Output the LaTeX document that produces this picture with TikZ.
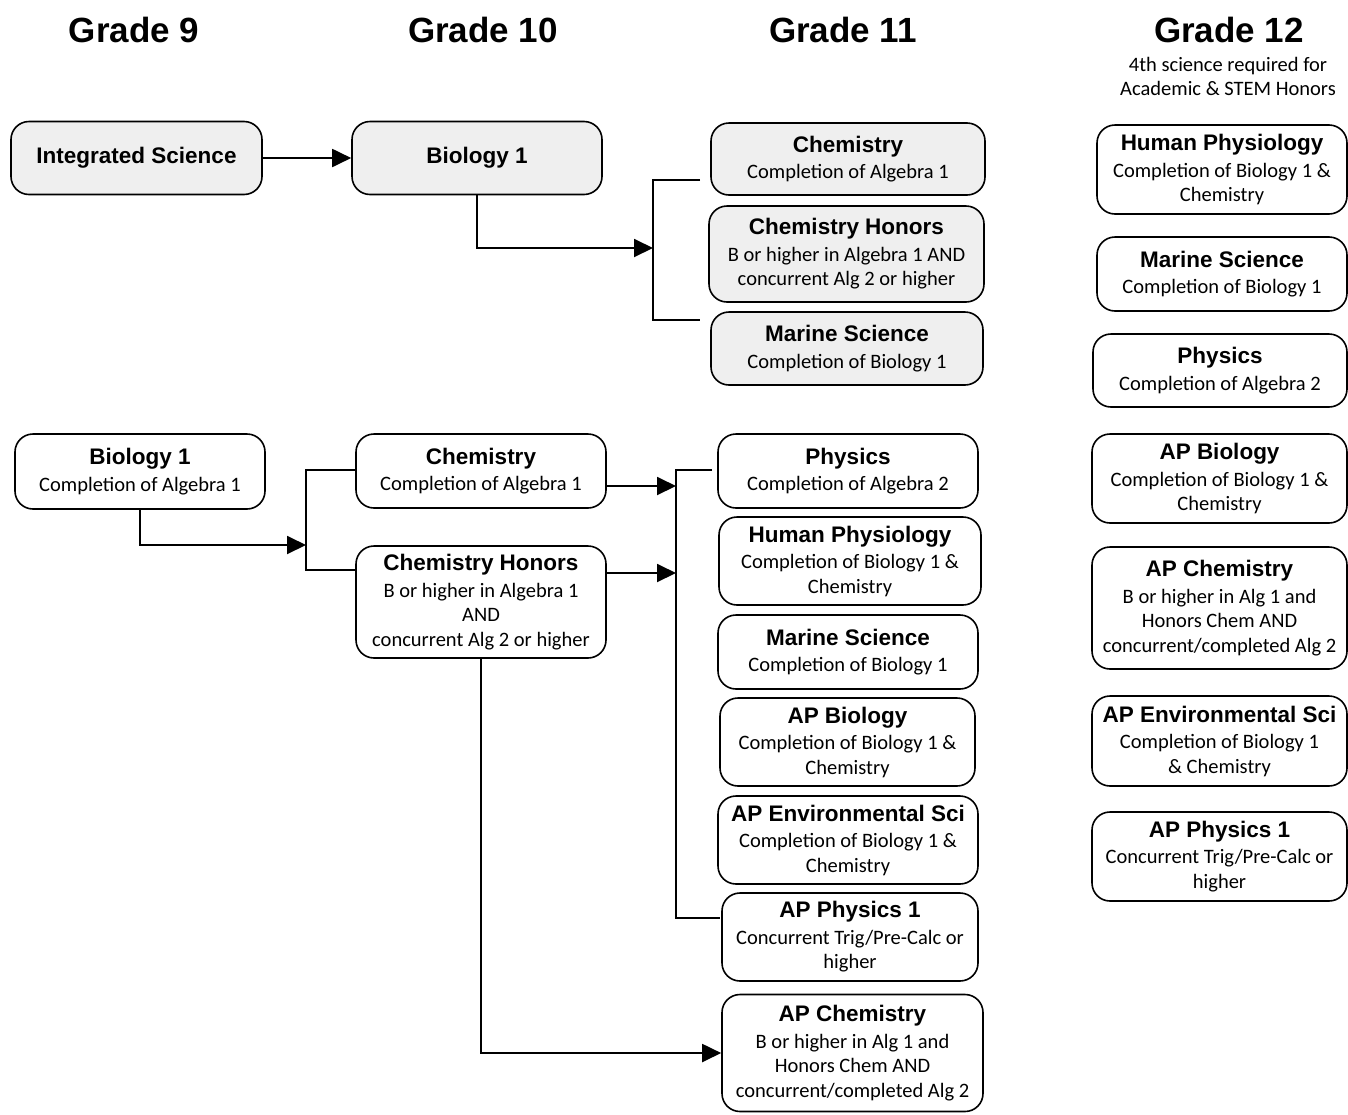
\documentclass[tikz,border=0pt]{standalone}
\usepackage{fontspec}
\setmainfont{Carlito}
\newfontfamily\arialfont{Liberation Sans}
\usetikzlibrary{arrows.meta}
\definecolor{corefill}{HTML}{EFEFEF}
\newcommand{\ctitle}[1]{{\arialfont\bfseries\fontsize{22.5}{27}\selectfont #1}}

\begin{document}
\begin{tikzpicture}[x=1pt,y=-1pt]
        \tikzset{
            crs/.style={draw, rounded corners=18pt, line width=1.6pt, align=center,
            inner sep=0pt, font=\fontsize{20.5}{24.5}\selectfont},
            core/.style={crs, fill=corefill},
            wh/.style 2 args={minimum width=#1pt, minimum height=#2pt},
            grade/.style={font=\arialfont\bfseries\fontsize{35}{40}\selectfont},
            ln/.style={line width=1.9pt},
            arr/.style={ln, -{Triangle[length=19pt,width=18pt]}}
            }
            \useasboundingbox (0,0) rectangle (1348,1114);

            % grade headings
            \node[grade] (g9) at (134,30) {Grade 9};
            \node[grade] (g10) at (483,30) {Grade 10};
            \node[grade] (g11) at (843,30) {Grade 11};
            \node[grade] (g12) at (1229,30) {Grade 12};
            \node[align=center, font=\fontsize{20.5}{24}\selectfont] (note) at (1228,76) {4th science required for\\Academic \& STEM Honors};

            % top track
            \node[core, wh={251}{73}] (tis) at (136.5,158) {\ctitle{Integrated Science}};
            \node[core, wh={250}{73}] (tbio) at (477,158) {\ctitle{Biology 1}};
            \node[core, wh={274}{72}] (tchem) at (848,159) {\ctitle{Chemistry}\\[2pt]Completion of Algebra 1};
            \node[core, wh={275}{96}] (tchemh) at (846.5,254) {\ctitle{Chemistry Honors}\\[2pt]B or higher in Algebra 1 AND\\concurrent Alg 2 or higher};
            \node[core, wh={272}{73}] (tmar) at (847,348.5) {\ctitle{Marine Science}\\[2pt]Completion of Biology 1};

            \coordinate (tsplit) at (653,248);
            \draw[arr] (tis) -- (tbio);
            \draw[arr] (tbio.south) |- (tsplit);
            \draw[ln, shorten <=10pt, shorten >=10pt] ([yshift=-21pt]tchem.west) -| (tsplit) |- ([yshift=28.5pt]tmar.west);

            % bottom track
            \node[crs, wh={250}{75}] (bbio) at (140,471.5) {\ctitle{Biology 1}\\[2pt]Completion of Algebra 1};
            \node[crs, wh={250}{74}] (bchem) at (481,471) {\ctitle{Chemistry}\\[2pt]Completion of Algebra 1};
            \node[crs, wh={250}{112}] (bchemh) at (481,602) {\ctitle{Chemistry Honors}\\[2pt]B or higher in Algebra 1\\AND\\concurrent Alg 2 or higher};
            \node[crs, wh={260}{74}] (bphys) at (848,471) {\ctitle{Physics}\\[2pt]Completion of Algebra 2};
            \node[crs, wh={262}{88}] (bhum) at (850,561) {\ctitle{Human Physiology}\\[2pt]Completion of Biology 1 \&\\Chemistry};
            \node[crs, wh={260}{74}] (bmar) at (848,652) {\ctitle{Marine Science}\\[2pt]Completion of Biology 1};
            \node[crs, wh={255}{88}] (bapbio) at (847.5,742) {\ctitle{AP Biology}\\[2pt]Completion of Biology 1 \&\\Chemistry};
            \node[crs, wh={260}{88}] (bapenv) at (848,840) {\ctitle{AP Environmental Sci}\\[2pt]Completion of Biology 1 \&\\Chemistry};
            \node[crs, wh={256}{88}] (bapphys) at (850,937) {\ctitle{AP Physics 1}\\[2pt]Concurrent Trig/Pre-Calc or\\higher};
            \node[crs, wh={261}{117}] (bapchem) at (852.5,1053) {\ctitle{AP Chemistry}\\[2pt]B or higher in Alg 1 and\\Honors Chem AND\\concurrent/completed Alg 2};

            \coordinate (bsplit) at (306,545);
            \coordinate (csplit1) at (676,486);
            \coordinate (csplit2) at (676,573);
            \draw[arr] (bbio.south) |- (bsplit);
            \draw[ln] ([yshift=1pt]bchem.west) -| (bsplit) |- ([yshift=32pt]bchemh.west);
            \draw[arr] ([yshift=-15pt]bchem.east) -- (csplit1);
            \draw[arr] ([yshift=29pt]bchemh.east) -- (csplit2);
            \draw[ln, shorten <=5pt, shorten >=1pt] ([yshift=1pt]bphys.west) -| (csplit1) -- (csplit2) |- ([yshift=19pt]bapphys.west);
            \draw[arr] (bchemh.south) |- (bapchem.west);

            % grade 12 choices
            \node[crs, wh={250}{89}] (rhum) at (1222,169.5) {\ctitle{Human Physiology}\\[2pt]Completion of Biology 1 \&\\Chemistry};
            \node[crs, wh={250}{74}] (rmar) at (1222,274) {\ctitle{Marine Science}\\[2pt]Completion of Biology 1};
            \node[crs, wh={254}{73}] (rphys) at (1220,370.5) {\ctitle{Physics}\\[2pt]Completion of Algebra 2};
            \node[crs, wh={255}{89}] (rapbio) at (1219.5,478.5) {\ctitle{AP Biology}\\[2pt]Completion of Biology 1 \&\\Chemistry};
            \node[crs, wh={255}{122}] (rapchem) at (1219.5,608) {\ctitle{AP Chemistry}\\[2pt]B or higher in Alg 1 and\\Honors Chem AND\\concurrent/completed Alg 2};
            \node[crs, wh={255}{90}] (rapenv) at (1219.5,741) {\ctitle{AP Environmental Sci}\\[2pt]Completion of Biology 1\\\& Chemistry};
            \node[crs, wh={255}{89}] (rapphys) at (1219.5,856.5) {\ctitle{AP Physics 1}\\[2pt]Concurrent Trig/Pre-Calc or\\higher};
        \end{tikzpicture}
\end{document}
